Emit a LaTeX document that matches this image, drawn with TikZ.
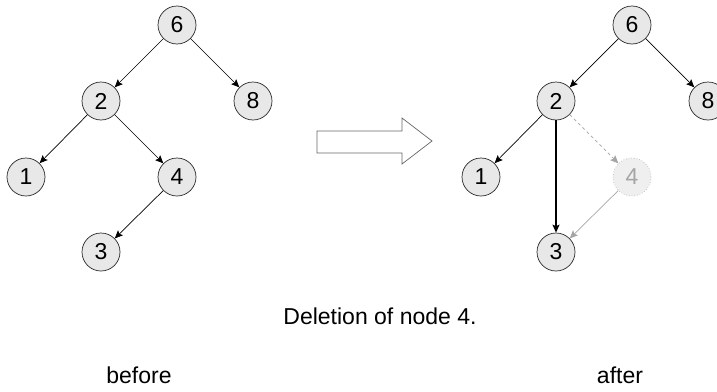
\documentclass[tikz,border=0pt]{standalone}
\usepackage{fontspec}
\setmainfont{Liberation Sans}
\usetikzlibrary{arrows.meta}
\definecolor{keyfill}{RGB}{232,232,232}
\definecolor{ghost}{RGB}{165,165,165}

\begin{document}
\begin{tikzpicture}[x=1pt, y=-1pt, >={Stealth[length=8pt,width=7pt,inset=1.5pt]},
    key/.style={circle, draw=black!85, fill=keyfill, minimum size=38pt, inner sep=0pt,
      line width=0.7pt, font=\fontsize{23}{27}\selectfont},
    ghostkey/.style={key, draw=ghost!80, dotted, fill=keyfill!70, text=ghost},
    link/.style={->, line width=0.7pt},
    captext/.style={font=\fontsize{23}{27}\selectfont, anchor=base}]
    \useasboundingbox (0,0) rectangle (717,391);

    % Tree before deletion
    \node[key] (b6) at (177,25) {6};
    \node[key] (b2) at (101,101) {2};
    \node[key] (b8) at (253,101) {8};
    \node[key] (b1) at (26,177) {1};
    \node[key] (b4) at (177,177) {4};
    \node[key] (b3) at (101,252) {3};
    \draw[link] (b6) -- (b2);
    \draw[link] (b6) -- (b8);
    \draw[link] (b2) -- (b1);
    \draw[link] (b2) -- (b4);
    \draw[link] (b4) -- (b3);

    % Block arrow
    \draw[black!60, fill=white, line width=0.7pt]
      (317,131) -- (402,131) -- (402,118) -- (432,141) -- (402,164) -- (402,153) -- (317,153) -- cycle;

    % Tree after deletion
    \node[key] (a6) at (632,25) {6};
    \node[key] (a2) at (556,101) {2};
    \node[key] (a8) at (708,101) {8};
    \node[key] (a1) at (481,177) {1};
    \node[ghostkey] (a4) at (632,177) {4};
    \node[key] (a3) at (556,252) {3};
    \draw[link] (a6) -- (a2);
    \draw[link] (a6) -- (a8);
    \draw[link] (a2) -- (a1);
    \draw[link, line width=1.2pt] (a2) -- (a3);
    \draw[link, ghost, dashed] (a2) -- (a4);
    \draw[link, ghost] (a4) -- (a3);

    % Captions
    \node[captext] (title) at (380,324) {Deletion of node 4.};
    \node[captext] (before) at (139,383) {before};
    \node[captext] (after) at (620,383) {after};
\end{tikzpicture}
\end{document}
